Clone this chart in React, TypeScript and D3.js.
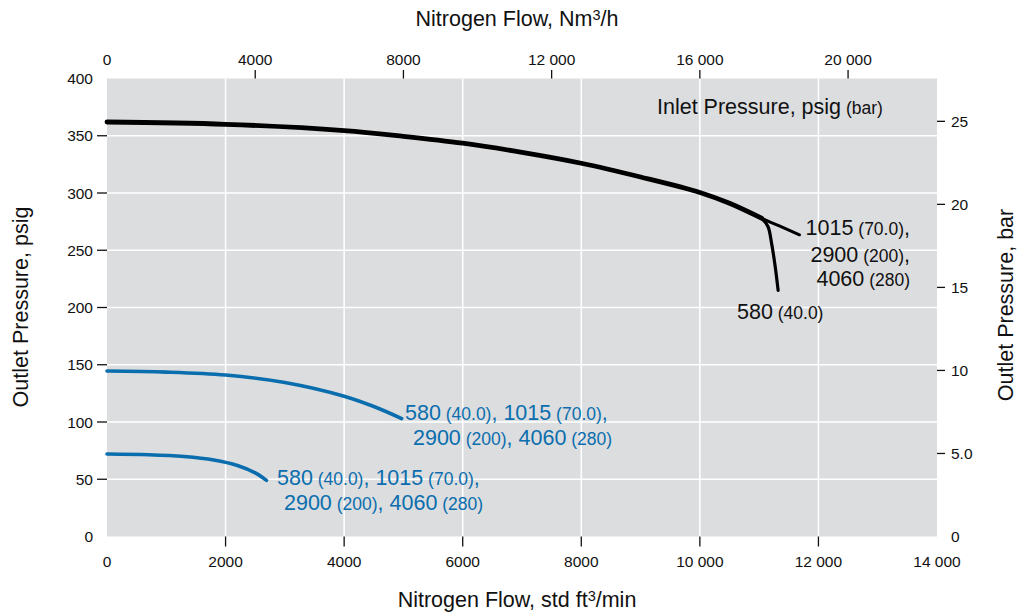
import React, { useEffect, useRef } from "react";
import * as d3 from "d3";

// flow in std ft3/min, pressure in psig
const mainFlow = [0, 2000, 4000, 5000, 6000, 7000, 8000, 9000, 10000, 10500, 11040];
const mainPsig = [362, 360, 354.5, 349.5, 343.5, 335.5, 326, 314, 300.5, 291, 278];

const highFlow = [11000, 11350, 11680];
const highPsig = [278.8, 271, 263.5];

const lowFlow = [10950, 11060, 11150, 11210, 11270, 11320];
const lowPsig = [280, 276.8, 270.5, 256, 236, 215];

const blueUpperFlow = [0, 1000, 2000, 3000, 4000, 4500, 4970];
const blueUpperPsig = [144.5, 143.6, 141, 134.5, 122.5, 113.5, 103];

const blueLowerFlow = [0, 700, 1300, 1800, 2200, 2500, 2690];
const blueLowerPsig = [72, 71.4, 69.8, 66.8, 62, 55.5, 49];

const bottomTicks = [0, 2000, 4000, 6000, 8000, 10000, 12000, 14000];
const topTicks = [0, 4000, 8000, 12000, 16000, 20000];
const psigTicks = [0, 50, 100, 150, 200, 250, 300, 350, 400];
const barTicks = [0, 5, 10, 15, 20, 25];

const blackLabels = [
  { main: "1015", sub: " (70.0)", tail: "," },
  { main: "2900", sub: " (200)", tail: "," },
  { main: "4060", sub: " (280)", tail: "" },
];

const blueLabelRows = [
  [
    ["580", " (40.0)"],
    [", 1015", " (70.0)"],
    [",", ""],
  ],
  [
    ["2900", " (200)"],
    [", 4060", " (280)"],
  ],
];

const PSI_PER_BAR = 14.5038;
const FONT = "'Liberation Sans', Arial, Helvetica, sans-serif";
const BLUE = "#0a6eae";
const GRAY = "#dcdddf";
const BIG = 21.5;
const SMALL = 17.5;

const fmt = (v: number) =>
  v >= 10000 ? d3.format(",")(v).replace(",", " ") : String(v);

const App = () => {
  const ref: any = useRef(null);
  const width = 1032;
  const height = 615;
  const margin = { top: 78.5, right: 95, bottom: 78.5, left: 107 };

  useEffect(() => {
    const svg = d3.select(ref.current);
    svg.selectAll("*").remove();

    const x = d3.scaleLinear().domain([0, 14000]).range([margin.left, width - margin.right]);
    const xTop = d3.scaleLinear().domain([0, 22400]).range([margin.left, width - margin.right]);
    const y = d3.scaleLinear().domain([0, 400]).range([height - margin.bottom, margin.top]);
    const yBar = d3.scaleLinear().domain([0, 400 / PSI_PER_BAR]).range([height - margin.bottom, margin.top]);

    const x0 = x(0);
    const x1 = x(14000);
    const y0 = y(0);
    const y1 = y(400);

    // plot background
    svg.append("rect")
      .attr("x", x0).attr("y", y1)
      .attr("width", x1 - x0).attr("height", y0 - y1)
      .attr("fill", GRAY);

    // grid
    const grid = svg.append("g").attr("stroke", "#fff").attr("stroke-width", 1.5);
    grid.selectAll("line.v")
      .data(bottomTicks.slice(1, -1))
      .join("line")
      .attr("x1", (d) => x(d)).attr("x2", (d) => x(d))
      .attr("y1", y1).attr("y2", y0);
    grid.selectAll("line.h")
      .data(psigTicks.slice(1, -1))
      .join("line")
      .attr("x1", x0).attr("x2", x1)
      .attr("y1", (d) => y(d)).attr("y2", (d) => y(d));

    const text = svg.append("g")
      .attr("font-family", FONT)
      .attr("fill", "#111");

    // bottom axis
    svg.append("g").attr("stroke", "#111").attr("stroke-width", 1.3)
      .selectAll("line")
      .data(bottomTicks.slice(1, -1))
      .join("line")
      .attr("x1", (d) => x(d)).attr("x2", (d) => x(d))
      .attr("y1", y0).attr("y2", y0 + 10);
    text.selectAll("text.bx")
      .data(bottomTicks)
      .join("text")
      .attr("x", (d) => x(d)).attr("y", y0 + 30)
      .attr("text-anchor", "middle").attr("font-size", 15.5)
      .text((d) => fmt(d));

    // top axis
    svg.append("g").attr("stroke", "#111").attr("stroke-width", 1.3)
      .selectAll("line")
      .data(topTicks.slice(1))
      .join("line")
      .attr("x1", (d) => xTop(d)).attr("x2", (d) => xTop(d))
      .attr("y1", y1 - 8.5).attr("y2", y1);
    text.selectAll("text.tx")
      .data(topTicks)
      .join("text")
      .attr("x", (d) => xTop(d)).attr("y", y1 - 13.5)
      .attr("text-anchor", "middle").attr("font-size", 15.5)
      .text((d) => fmt(d));

    // left axis
    svg.append("g").attr("stroke", "#111").attr("stroke-width", 1.3)
      .selectAll("line")
      .data(psigTicks.slice(1, -1))
      .join("line")
      .attr("x1", x0 - 10).attr("x2", x0)
      .attr("y1", (d) => y(d)).attr("y2", (d) => y(d));
    text.selectAll("text.ly")
      .data(psigTicks)
      .join("text")
      .attr("x", x0 - 14).attr("y", (d) => y(d))
      .attr("dy", "0.36em")
      .attr("text-anchor", "end").attr("font-size", 15.5)
      .text((d) => String(d));

    // right axis
    svg.append("g").attr("stroke", "#111").attr("stroke-width", 1.3)
      .selectAll("line")
      .data(barTicks.slice(1))
      .join("line")
      .attr("x1", x1).attr("x2", x1 + 8)
      .attr("y1", (d) => yBar(d)).attr("y2", (d) => yBar(d));
    text.selectAll("text.ry")
      .data(barTicks)
      .join("text")
      .attr("x", x1 + 14).attr("y", (d) => yBar(d))
      .attr("dy", "0.36em")
      .attr("text-anchor", "start").attr("font-size", 15.5)
      .text((d) => (d === 5 ? "5.0" : String(d)));

    // axis titles
    const top = text.append("text")
      .attr("x", 517).attr("y", 26)
      .attr("text-anchor", "middle").attr("font-size", BIG);
    top.append("tspan").text("Nitrogen Flow, Nm");
    top.append("tspan").attr("font-size", 14.5).attr("dy", -6).text("3");
    top.append("tspan").attr("dy", 6).text("/h");

    const bottom = text.append("text")
      .attr("x", 517).attr("y", 607)
      .attr("text-anchor", "middle").attr("font-size", BIG);
    bottom.append("tspan").text("Nitrogen Flow, std ft");
    bottom.append("tspan").attr("font-size", 14.5).attr("dy", -6).text("3");
    bottom.append("tspan").attr("dy", 6).text("/min");

    text.append("text")
      .attr("transform", "translate(28,307) rotate(-90)")
      .attr("text-anchor", "middle").attr("font-size", BIG)
      .text("Outlet Pressure, psig");

    text.append("text")
      .attr("transform", "translate(1013,305) rotate(-90)")
      .attr("text-anchor", "middle").attr("font-size", BIG)
      .text("Outlet Pressure, bar");

    // curves
    const line = d3.line<[number, number]>()
      .x((d) => x(d[0]))
      .y((d) => y(d[1]))
      .curve(d3.curveCatmullRom.alpha(0.5));
    const zip = (a: number[], b: number[]) => a.map((v, i) => [v, b[i]] as [number, number]);

    const curves = [
      { pts: zip(highFlow, highPsig), color: "#000", w: 3 },
      { pts: zip(lowFlow, lowPsig), color: "#000", w: 3.2 },
      { pts: zip(mainFlow, mainPsig), color: "#000", w: 4.8 },
      { pts: zip(blueUpperFlow, blueUpperPsig), color: BLUE, w: 3.6 },
      { pts: zip(blueLowerFlow, blueLowerPsig), color: BLUE, w: 3.6 },
    ];
    svg.append("g")
      .selectAll("path")
      .data(curves)
      .join("path")
      .attr("d", (d) => line(d.pts))
      .attr("fill", "none")
      .attr("stroke", (d) => d.color)
      .attr("stroke-width", (d) => d.w)
      .attr("stroke-linecap", "round")
      .attr("stroke-linejoin", "round");

    // inlet pressure legend
    const inlet = text.append("text").attr("x", 657).attr("y", 114).attr("font-size", BIG);
    inlet.append("tspan").text("Inlet Pressure, psig");
    inlet.append("tspan").attr("font-size", SMALL).text(" (bar)");

    // black labels
    const blackYs = [235, 261.5, 286];
    blackLabels.forEach((l, i) => {
      const t = text.append("text")
        .attr("x", 910).attr("y", blackYs[i])
        .attr("text-anchor", "end").attr("font-size", BIG);
      t.append("tspan").text(l.main);
      t.append("tspan").attr("font-size", SMALL).text(l.sub);
      if (l.tail) t.append("tspan").text(l.tail);
    });
    const l580 = text.append("text").attr("x", 737).attr("y", 319).attr("font-size", BIG);
    l580.append("tspan").text("580");
    l580.append("tspan").attr("font-size", SMALL).text(" (40.0)");

    // blue labels
    const blueBlocks = [
      { x: [405, 413], y: [420, 445] },
      { x: [277, 284], y: [485, 510] },
    ];
    blueBlocks.forEach((b) => {
      blueLabelRows.forEach((row, r) => {
        const t = text.append("text")
          .attr("x", b.x[r]).attr("y", b.y[r])
          .attr("fill", BLUE).attr("font-size", BIG);
        row.forEach(([big, small]) => {
          t.append("tspan").text(big);
          if (small) t.append("tspan").attr("font-size", SMALL).text(small);
        });
      });
    });
  }, []);

  return (
    <svg
      ref={ref}
      width={width}
      height={height}
      style={{ position: "absolute", left: 0, top: 0, background: "#fff" }}
    />
  );
};

export default App;
